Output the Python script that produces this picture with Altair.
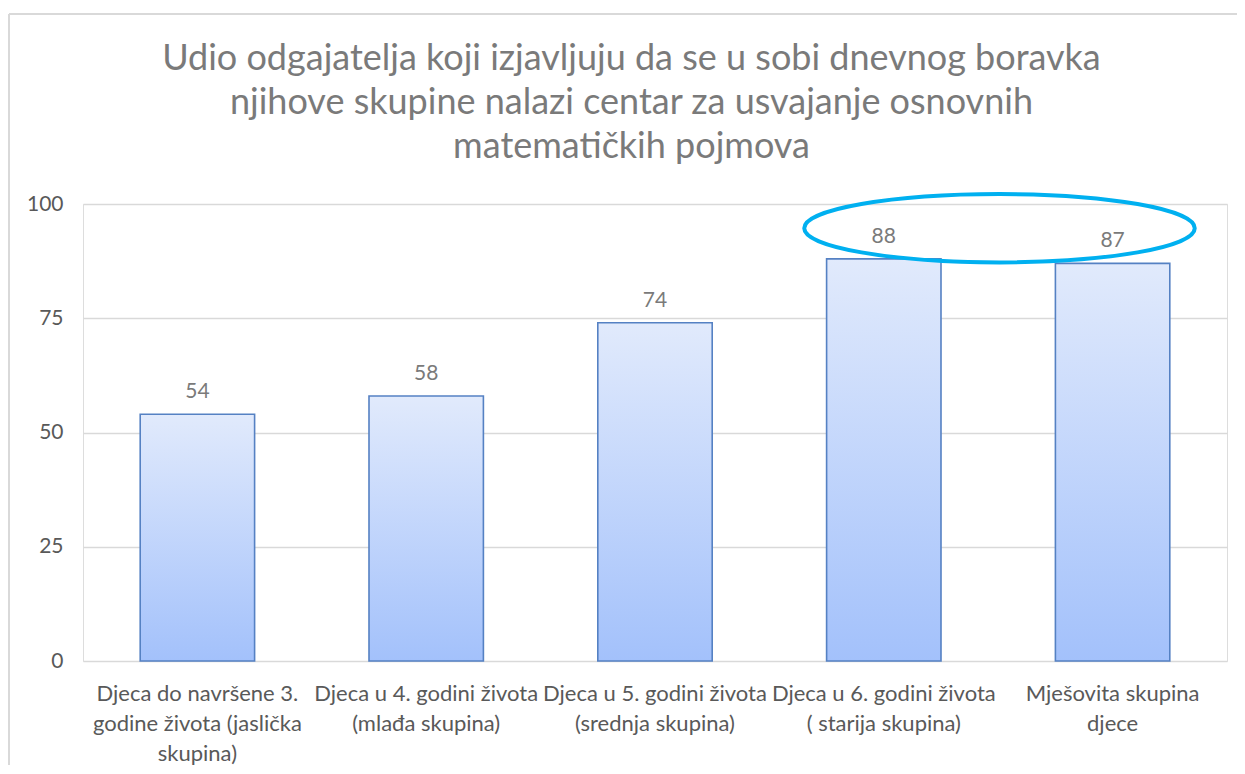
import altair as alt
import pandas as pd

categories = [
    "Djeca do navršene 3.|godine života (jaslička|skupina)",
    "Djeca u 4. godini života|(mlađa skupina)",
    "Djeca u 5. godini života|(srednja skupina)",
    "Djeca u 6. godini života|( starija skupina)",
    "Mješovita skupina|djece",
]
values = [54, 58, 74, 88, 87]
y_ticks = [0, 25, 50, 75, 100]
title_lines = [
    "Udio odgajatelja koji izjavljuju da se u sobi dnevnog boravka",
    "njihove skupine nalazi centar za usvajanje osnovnih",
    "matematičkih pojmova",
]
highlight_value = 94.7  # vertical centre of the annotation ellipse

df = pd.DataFrame({"cat": categories, "val": values})

FONT = "Lato"
x_enc = alt.X(
    "cat:N",
    sort=categories,
    title=None,
    scale=alt.Scale(paddingInner=0.5, paddingOuter=0.25),
    axis=alt.Axis(
        labelAngle=0,
        labelExpr="split(datum.label, '|')",
        labelFont=FONT,
        labelFontSize=22,
        labelColor="#595959",
        labelLineHeight=30,
        labelPadding=22,
        labelLimit=400,
        labelOverlap=False,
        labelBaseline="top",
        ticks=False,
        domain=False,
    ),
)
y_enc = alt.Y(
    "val:Q",
    title=None,
    scale=alt.Scale(domain=[0, 100], nice=False),
    axis=alt.Axis(
        values=y_ticks,
        labelFont=FONT,
        labelFontSize=21,
        labelColor="#595959",
        labelPadding=20,
        ticks=False,
        domain=False,
        grid=True,
        gridColor="#d9d9d9",
        gridWidth=1.3,
    ),
)

base = alt.Chart(df)

bars = base.mark_bar(
    color=alt.Gradient(
        gradient="linear",
        stops=[
            alt.GradientStop(color="#e1eafc", offset=0),
            alt.GradientStop(color="#a3c1fb", offset=1),
        ],
        x1=0, x2=0, y1=0, y2=1,
    ),
    stroke="#5581c3",
    strokeWidth=1.6,
).encode(x=x_enc, y=y_enc)

labels = base.mark_text(
    font=FONT, fontSize=21, color="#7a7a7a", baseline="alphabetic", dy=-16
).encode(x=alt.X("cat:N", sort=categories), y="val:Q", text="val:Q")

one = alt.Chart(pd.DataFrame({"k": [0]}))

ellipse = one.mark_point(
    shape="M -1 0 A 1 0.175 0 1 1 1 0 A 1 0.175 0 1 1 -1 0 Z",
    filled=False,
    stroke="#00b0f0",
    strokeWidth=4,
    opacity=1,
).encode(
    x=alt.value(916.5),
    y=alt.YDatum(highlight_value),
    size=alt.value(152500),
)

title = one.mark_text(
    font=FONT,
    fontSize=36,
    color="#7a7a7a",
    lineHeight=44,
    baseline="alphabetic",
    align="center",
).encode(
    x=alt.value(548.5),
    y=alt.value(-134),
    text=alt.value(title_lines),
)

frame_top = one.mark_rule(color="#d9d9d9", strokeWidth=2).encode(
    x=alt.value(-74), x2=alt.value(1200), y=alt.value(-190)
)
frame_left = one.mark_rule(color="#d9d9d9", strokeWidth=2).encode(
    x=alt.value(-74), y=alt.value(-190), y2=alt.value(700)
)

chart = (
    alt.layer(frame_top, frame_left, bars, labels, ellipse, title)
    .properties(
        width=1144,
        height=457,
        autosize=alt.AutoSizeParams(type="none"),
        padding={"left": 75, "top": 196, "right": 10, "bottom": 104},
    )
    .configure_view(strokeWidth=0)
    .configure(background="white")
)

chart.save("out.html", embed_options={"renderer": "svg", "actions": False})
